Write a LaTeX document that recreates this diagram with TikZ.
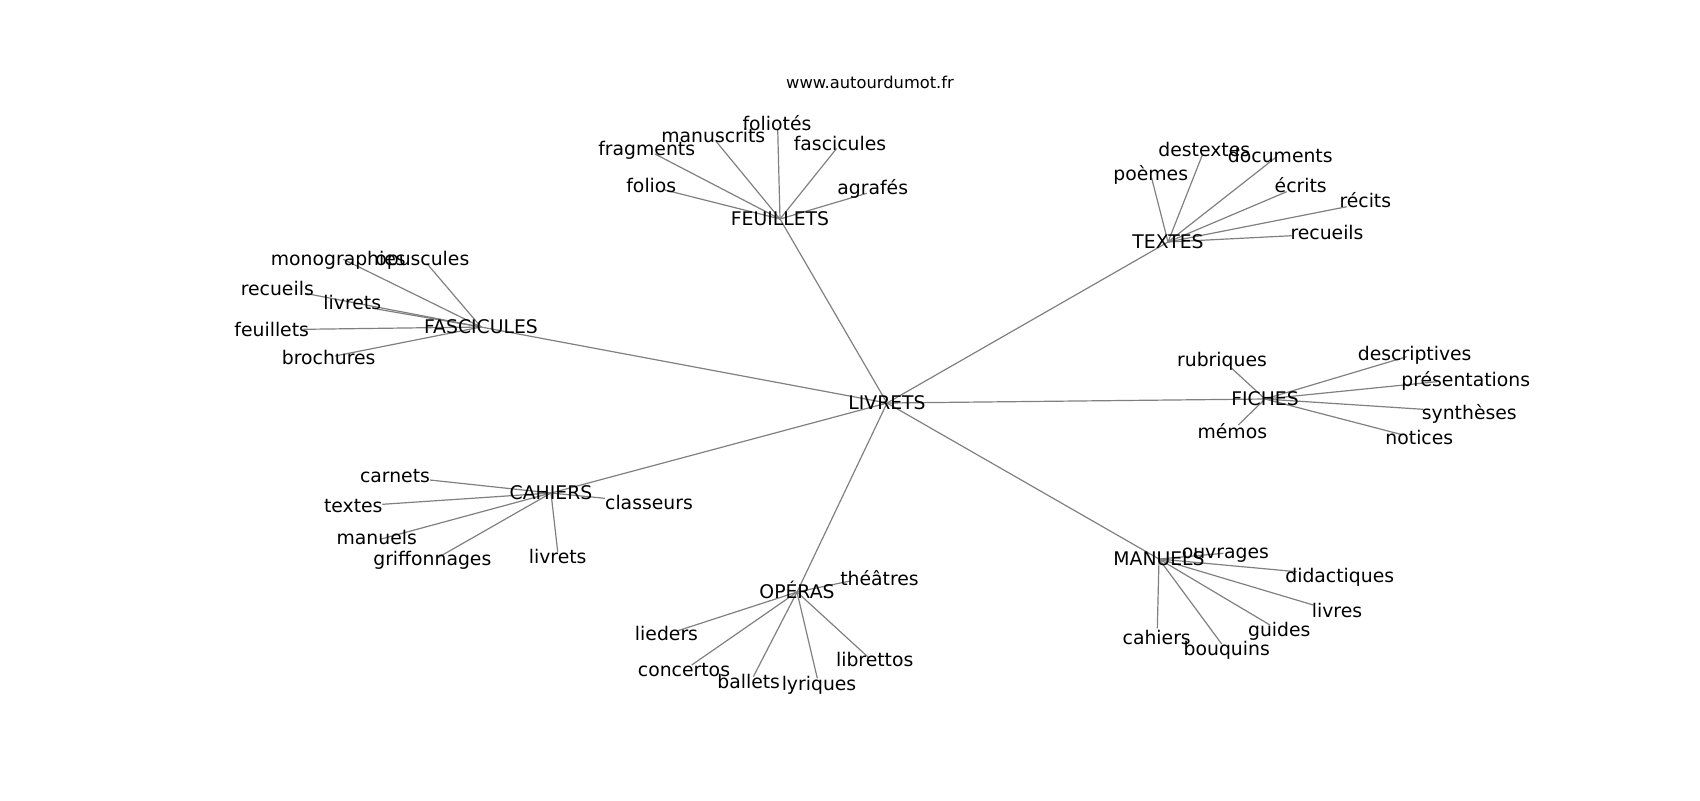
\documentclass[tikz,border=0pt]{standalone}
\usepackage{fontspec}
\setmainfont{DejaVu Sans}
\pgfdeclarelayer{bg}
\pgfsetlayers{bg,main}
\tikzset{
  lab/.style={inner sep=0pt, anchor=center, font=\fontsize{9.4pt}{11pt}\selectfont, text height=7.1pt, text depth=2.3pt},
  hub/.style={inner sep=0pt, anchor=center, font=\fontsize{9.4pt}{11pt}\selectfont, text height=8.1pt, text depth=1.3pt},
  ttl/.style={inner sep=0pt, anchor=center, font=\fontsize{8.15pt}{10pt}\selectfont, text height=6.2pt, text depth=1.95pt},
  edge/.style={draw=black!50, line width=0.6pt}
}
\begin{document}
\begin{tikzpicture}[x=0.5pt,y=-0.5pt]
\useasboundingbox (0,0) rectangle (1700,800);
\node[ttl] (title) at (870,84) {www.autourdumot.fr};
% hubs
\node[hub] (LIVRETS) at (887,403) {LIVRETS};
\node[hub] (FEUILLETS) at (780,219) {FEUILLETS};
\node[hub] (TEXTES) at (1168,242) {TEXTES};
\node[hub] (FASCICULES) at (481,327) {FASCICULES};
\node[hub] (FICHES) at (1265,399) {FICHES};
\node[hub] (CAHIERS) at (551,493) {CAHIERS};
\node[hub] (OPERAS) at (797,592) {OPÉRAS};
\node[hub] (MANUELS) at (1159,559) {MANUELS};
% leaf end points
\coordinate (fe1) at (777.7,129.3);
\coordinate (fe2) at (715,140);
\coordinate (fe3) at (655,154);
\coordinate (fe4) at (836.7,148.3);
\coordinate (fe5) at (665,190);
\coordinate (fe6) at (866.7,193.3);
\coordinate (te1) at (1202.3,155);
\coordinate (te2) at (1151.7,178.3);
\coordinate (te3) at (1276.7,156.7);
\coordinate (te4) at (1286.7,191.7);
\coordinate (te5) at (1346.7,206.7);
\coordinate (te6) at (1291.7,235.7);
\coordinate (fa1) at (343.3,259.3);
\coordinate (fa2) at (426.7,263.3);
\coordinate (fa3) at (305,293.3);
\coordinate (fa4) at (376.7,309);
\coordinate (fa5) at (303.3,329.3);
\coordinate (fa6) at (335,356);
\coordinate (fi1) at (1231.7,368.3);
\coordinate (fi2) at (1406.7,356.7);
\coordinate (fi3) at (1436.7,381.7);
\coordinate (fi4) at (1423.3,409.3);
\coordinate (fi5) at (1403.3,435);
\coordinate (fi6) at (1238.3,425);
\coordinate (ca1) at (430,480);
\coordinate (ca2) at (382.3,504.3);
\coordinate (ca3) at (380,539.3);
\coordinate (ca4) at (436.7,558.3);
\coordinate (ca5) at (557.7,551.7);
\coordinate (ca6) at (605,498.3);
\coordinate (op1) at (850,581);
\coordinate (op2) at (677,631);
\coordinate (op3) at (691.7,665);
\coordinate (op4) at (753.3,676.7);
\coordinate (op5) at (817.3,678.3);
\coordinate (op6) at (868.3,657.3);
\coordinate (ma1) at (1223.3,553.3);
\coordinate (ma2) at (1296.7,571.7);
\coordinate (ma3) at (1313.3,605);
\coordinate (ma4) at (1270,625);
\coordinate (ma5) at (1157.3,628.3);
\coordinate (ma6) at (1221.7,644);
% leaf labels
\begin{scope}
\clip (212.5,96) rectangle (1530,712);
\node[lab] (fe1l) at (777,125.8) {foliotés};
\node[lab] (fe2l) at (713.3,137.5) {manuscrits};
\node[lab] (fe3l) at (646.7,150.8) {fragments};
\node[lab] (fe4l) at (840,145.2) {fascicules};
\node[lab] (fe5l) at (651.3,187.5) {folios};
\node[lab] (fe6l) at (872.7,189.8) {agrafés};
\node[lab] (te1l) at (1204.3,151.8) {destextes};
\node[lab] (te2l) at (1150.7,175.8) {poèmes};
\node[lab] (te3l) at (1280.3,157.5) {documents};
\node[lab] (te4l) at (1300.7,187.5) {écrits};
\node[lab] (te5l) at (1365.3,202.5) {récits};
\node[lab] (te6l) at (1327,234.8) {recueils};
\node[lab] (fa1l) at (338.3,260.8) {monographies};
\node[lab] (fa2l) at (422.3,260.8) {opuscules};
\node[lab] (fa3l) at (277.3,290.8) {recueils};
\node[lab] (fa4l) at (352.3,304.2) {livrets};
\node[lab] (fa5l) at (271.7,331.5) {feuillets};
\node[lab] (fa6l) at (328.7,359.2) {brochures};
\node[lab] (fi1l) at (1222,361.8) {rubriques};
\node[lab] (fi2l) at (1414.7,355.2) {descriptives};
\node[lab] (fi3l) at (1465.7,381.8) {présentations};
\node[lab] (fi4l) at (1469.3,414.2) {synthèses};
\node[lab] (fi5l) at (1419.3,439.8) {notices};
\node[lab] (fi6l) at (1232.3,433.2) {mémos};
\node[lab] (ca1l) at (395,477.5) {carnets};
\node[lab] (ca2l) at (353.3,507.5) {textes};
\node[lab] (ca3l) at (376.7,539.8) {manuels};
\node[lab] (ca4l) at (432.3,560.8) {griffonnages};
\node[lab] (ca5l) at (557.7,558.5) {livrets};
\node[lab] (ca6l) at (649,504.8) {classeurs};
\node[lab] (op1l) at (879.5,580.5) {théâtres};
\node[lab] (op2l) at (666.5,635.5) {lieders};
\node[lab] (op3l) at (684,671.5) {concertos};
\node[lab] (op4l) at (748.7,683.5) {ballets};
\node[lab] (op5l) at (819,685.8) {lyriques};
\node[lab] (op6l) at (874.7,661.8) {librettos};
\node[lab] (ma1l) at (1225.3,553.2) {ouvrages};
\node[lab] (ma2l) at (1339.7,577.5) {didactiques};
\node[lab] (ma3l) at (1337,612.5) {livres};
\node[lab] (ma4l) at (1279.3,631.8) {guides};
\node[lab] (ma5l) at (1156.7,639.2) {cahiers};
\node[lab] (ma6l) at (1226.7,650.8) {bouquins};
\end{scope}
% edges
\begin{pgfonlayer}{bg}
\foreach \h in {FEUILLETS,TEXTES,FASCICULES,FICHES,CAHIERS,OPERAS,MANUELS}
  \draw[edge] (LIVRETS.center) -- (\h.center);
\foreach \p in {fe1,fe2,fe3,fe4,fe5,fe6} \draw[edge] (FEUILLETS.center) -- (\p);
\foreach \p in {te1,te2,te3,te4,te5,te6} \draw[edge] (TEXTES.center) -- (\p);
\foreach \p in {fa1,fa2,fa3,fa4,fa5,fa6} \draw[edge] (FASCICULES.center) -- (\p);
\foreach \p in {fi1,fi2,fi3,fi4,fi5,fi6} \draw[edge] (FICHES.center) -- (\p);
\foreach \p in {ca1,ca2,ca3,ca4,ca5,ca6} \draw[edge] (CAHIERS.center) -- (\p);
\foreach \p in {op1,op2,op3,op4,op5,op6} \draw[edge] (OPERAS.center) -- (\p);
\foreach \p in {ma1,ma2,ma3,ma4,ma5,ma6} \draw[edge] (MANUELS.center) -- (\p);
\end{pgfonlayer}
\end{tikzpicture}
\end{document}
